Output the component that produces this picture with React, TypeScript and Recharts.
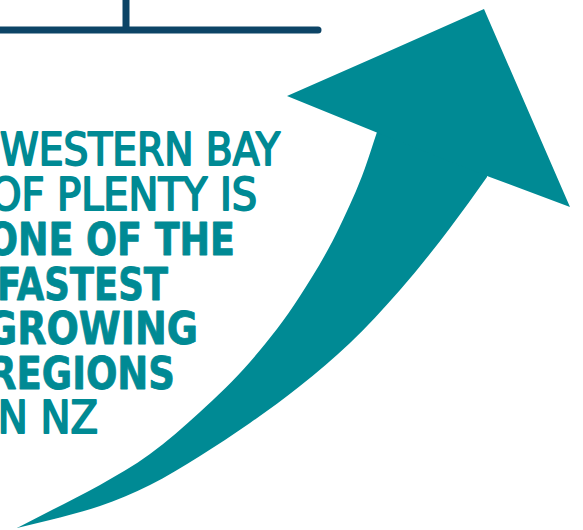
import React from 'react';
import { ComposedChart, Area, Line, XAxis, YAxis, Customized } from 'recharts';

const W = 583;
const H = 530;
const TEAL = '#008a94';
const NAVY = '#0c4466';

// arrow shaft (y runs down)
// upper edge; past x=377 it runs hidden under the head
const upperX = [17, 50, 100, 150, 200, 250, 300, 340, 365, 377, 395, 430, 487];
const upperY = [528, 511, 485, 454, 412, 362, 296, 226, 168, 132, 80, 55, 40];
// lower edge
const lowerX = [17, 50, 100, 150, 200, 250, 300, 350, 400, 450, 487];
const lowerY = [528, 520, 506, 485, 456, 423, 386, 343, 290, 228, 177];

// arrow head
const headX = [287, 378, 484, 487, 570];
const headTop = [96, 56, 9, 16, 207];
const headBottom = [96, 133, 175, 176, 207];

// navy rule at the top
const ruleX = [0, 318];
const ruleY = [30, 30];
const tickX = [126, 126];
const tickY = [0, 30];

const lines = ['WESTERN BAY', 'OF PLENTY IS', 'ONE OF THE', 'FASTEST', 'GROWING', 'REGIONS', 'IN NZ'];
const boldLine = [false, false, true, true, true, true, false];
const lineLeft = [0, -10, -13, -3, -14, -12, -14];
const lineRight = [280, 257, 235, 168, 198, 175, 98];
const lineBase = [165, 210, 255, 300, 344, 389, 433];

type Row = { x: number; [k: string]: any };

function buildRows(): Row[] {
  const rows: Row[] = [];
  // shaft = everything under the upper edge, minus everything under the lower edge
  upperX.forEach((x, i) => rows.push({ x, shaft: [upperY[i], H] }));
  lowerX.forEach((x, i) => rows.push({ x, under: [lowerY[i], H] }));
  headX.forEach((x, i) => rows.push({ x, head: [headTop[i], headBottom[i]] }));
  ruleX.forEach((x, i) => rows.push({ x, rule: ruleY[i] }));
  tickX.forEach((x, i) => rows.push({ x, tick: tickY[i] }));
  return rows.sort((a, b) => a.x - b.x);
}

const rows = buildRows();

function Headline() {
  return (
    <g>
      {lines.map((t, i) => (
        <text
          key={t}
          x={lineLeft[i]}
          y={lineBase[i]}
          fill={TEAL}
          fontFamily="'DejaVu Sans Condensed', 'DejaVu Sans', sans-serif"
          fontWeight={boldLine[i] ? 700 : 400}
          fontSize={44}
          stroke={TEAL}
          strokeWidth={boldLine[i] ? 0.8 : 1.8}
          strokeLinejoin="round"
          textLength={lineRight[i] - lineLeft[i]}
          lengthAdjust="spacingAndGlyphs"
        >
          {t}
        </text>
      ))}
    </g>
  );
}

export default function App() {
  return (
    <div style={{ position: 'fixed', left: 0, top: 0, width: W, height: H, background: '#fff' }}>
      <ComposedChart width={W} height={H} data={rows} margin={{ top: 0, right: 0, bottom: 0, left: 0 }}>
        <XAxis type="number" dataKey="x" domain={[0, W]} hide allowDataOverflow />
        <YAxis type="number" domain={[0, H]} reversed hide allowDataOverflow width={0} />
        <Line dataKey="rule" stroke={NAVY} strokeWidth={7} strokeLinecap="round" dot={false} activeDot={false} connectNulls isAnimationActive={false} />
        <Line dataKey="tick" stroke={NAVY} strokeWidth={7} dot={false} activeDot={false} connectNulls isAnimationActive={false} />
        <Area type="monotoneX" dataKey="shaft" fill={TEAL} fillOpacity={1} stroke="none" connectNulls dot={false} activeDot={false} isAnimationActive={false} />
        <Area type="monotoneX" dataKey="under" fill="#ffffff" fillOpacity={1} stroke="none" connectNulls dot={false} activeDot={false} isAnimationActive={false} />
        <Area type="linear" dataKey="head" fill={TEAL} fillOpacity={1} stroke="none" connectNulls dot={false} activeDot={false} isAnimationActive={false} />
        <Customized component={Headline} />
      </ComposedChart>
    </div>
  );
}
